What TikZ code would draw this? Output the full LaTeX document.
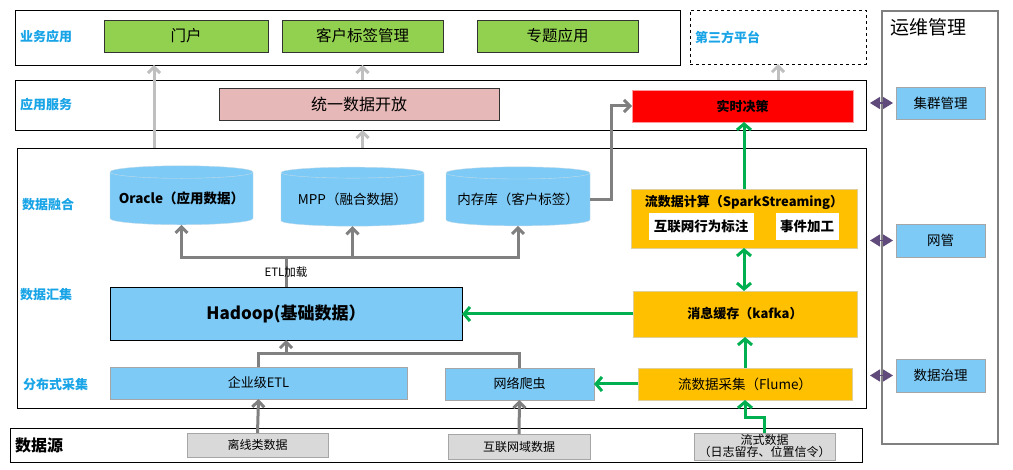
\documentclass[tikz,border=0pt]{standalone}
\usepackage{fontspec}
\setmainfont{Noto Sans CJK SC}
\usetikzlibrary{positioning,arrows.meta,shapes.geometric,calc}

\definecolor{lvlblue}{RGB}{24,164,230}
\definecolor{appgreen}{RGB}{146,208,80}
\definecolor{openpink}{RGB}{230,184,183}
\definecolor{dbblue}{RGB}{125,202,246}
\definecolor{flowgold}{RGB}{255,192,0}
\definecolor{srcgray}{RGB}{217,217,217}
\definecolor{arrowlt}{RGB}{191,191,191}
\definecolor{arrowdk}{RGB}{128,128,128}
\definecolor{arrowgr}{RGB}{0,176,80}
\definecolor{opspurple}{RGB}{96,73,123}

\newcommand{\fsz}[1]{\fontsize{#1}{#1}\selectfont}

\begin{document}
\begin{tikzpicture}[x=1pt,y=-1pt,
  layer/.style={rectangle,draw=black,line width=0.8pt,inner sep=0pt,outer sep=0pt},
  blk/.style={rectangle,draw=#1,line width=0.8pt,inner sep=0pt,outer sep=0pt,align=center},
  lvl/.style={anchor=west,inner sep=0pt,text=lvlblue,font=\bfseries\fsz{13}},
  db/.style={cylinder,shape border rotate=90,aspect=0.1,draw=dbblue!80!black!40,fill=dbblue,
    minimum width=143pt,minimum height=59pt,inner sep=0pt,outer sep=0pt,font=\fsz{13.5}},
  ltarrow/.style={draw=arrowlt,line width=3pt,-{Straight Barb[length=6pt,width=12pt]}},
  dkline/.style={draw=arrowdk,line width=3pt},
  dkarrow/.style={dkline,-{Straight Barb[length=6pt,width=12pt]}},
  grarrow/.style={draw=arrowgr,line width=3pt,-{Straight Barb[length=6pt,width=14pt]}},
  grboth/.style={draw=arrowgr,line width=3pt,{Straight Barb[length=6pt,width=14pt]}-{Straight Barb[length=6pt,width=14pt]}},
  opslink/.style={draw=opspurple,line width=1.5pt,{Triangle[length=10pt,width=12pt]}-{Triangle[length=10pt,width=12pt]},shorten <=4pt,shorten >=3pt},
]
\useasboundingbox (0,0) rectangle (1013,470);

% layers
\node[layer,minimum width=665pt,minimum height=55pt] (biz) at (347.5,37.5) {};
\node[layer,dashed,minimum width=176pt,minimum height=54pt] (third) at (778,37) {};
\node[layer,minimum width=851pt,minimum height=50pt] (svc) at (440.5,105) {};
\node[layer,minimum width=849pt,minimum height=260pt] (main) at (441.5,278) {};
\node[layer,minimum width=852pt,minimum height=34pt] (src) at (436,445) {};
\node[layer,draw=arrowdk,line width=2pt,minimum width=116pt,minimum height=433pt] (ops) at (940,227.5) {};

% level labels
\node[lvl] (lbiz) at (20,37) {业务应用};
\node[lvl] (lthird) at (695,37) {第三方平台};
\node[lvl] (lsvc) at (20,105) {应用服务};
\node[lvl] (lfuse) at (22,205) {数据融合};
\node[lvl] (lgather) at (20,295) {数据汇集};
\node[lvl] (lcollect) at (23,385) {分布式采集};
\node[lvl,text=black,font=\bfseries\fsz{16}] (lsrc) at (15,445) {数据源};
\node[anchor=west,inner sep=0pt,font=\fsz{19}] (lops) at (890,27) {运维管理};

% business apps
\node[blk=black!80,fill=appgreen,minimum width=164pt,minimum height=32pt,font=\fsz{15.5}] (portal) at (186,36) {门户};
\node[blk=black!80,fill=appgreen,minimum width=161pt,minimum height=32pt,font=\fsz{15.5}] (tag) at (362.5,36) {客户标签管理};
\node[blk=black!80,fill=appgreen,minimum width=161pt,minimum height=32pt,font=\fsz{15.5}] (topic) at (557.5,36) {专题应用};

% services
\node[blk=black!80,fill=openpink,minimum width=280pt,minimum height=32pt,font=\fsz{16}] (open) at (359,104) {统一数据开放};
\node[blk=red!40,fill=red,minimum width=221pt,minimum height=32pt,font=\bfseries\fsz{13}] (rt) at (742.5,106) {实时决策};

% ops
\node[blk=black!35,fill=dbblue,minimum width=89pt,minimum height=32pt,font=\fsz{13.5}] (cluster) at (940.5,103) {集群管理};
\node[blk=black!35,fill=dbblue,minimum width=89pt,minimum height=33pt,font=\fsz{13.5}] (netmgr) at (940.5,240.5) {网管};
\node[blk=black!35,fill=dbblue,minimum width=89pt,minimum height=33pt,font=\fsz{13.5}] (gov) at (940.5,375.5) {数据治理};

% data fusion
\node[db,font=\bfseries\fsz{13.5}] (oracle) at (181.5,198.5) {Oracle（应用数据）};
\node[db] (mpp) at (352.5,199.5) {MPP（融合数据）};
\node[db,minimum width=144pt] (mem) at (518,199.5) {内存库（客户标签）};

% stream computing
\node[blk=flowgold!70!black!40,fill=flowgold,minimum width=226pt,minimum height=59pt] (spark) at (744,218.5) {};
\node[inner sep=0pt,font=\bfseries\fsz{13}] (sparktitle) at (744,202) {流数据计算（SparkStreaming）};
\node[blk=white,fill=white,minimum width=104pt,minimum height=26pt,font=\bfseries\fsz{13.5}] (behav) at (701,226) {互联网行为标注};
\node[blk=white,fill=white,minimum width=62pt,minimum height=26pt,font=\bfseries\fsz{13.5}] (event) at (807,226) {事件加工};

% gathering
\node[blk=black,fill=dbblue,minimum width=352pt,minimum height=53pt,font=\bfseries\fsz{17}] (hadoop) at (286,313.5) {Hadoop(基础数据）};
\node[blk=flowgold!70!black!40,fill=flowgold,minimum width=224pt,minimum height=46pt,font=\bfseries\fsz{13}] (kafka) at (745,314) {消息缓存（kafka）};

% collection
\node[blk=black!35,fill=dbblue,minimum width=297pt,minimum height=32pt,font=\fsz{13}] (etl) at (258.5,383) {企业级ETL};
\node[blk=black!35,fill=dbblue,minimum width=149pt,minimum height=32pt,font=\fsz{13}] (crawler) at (519.5,384) {网络爬虫};
\node[blk=flowgold!70!black!40,fill=flowgold,minimum width=214pt,minimum height=32pt,font=\fsz{13.5}] (flume) at (745,384) {流数据采集（Flume）};

% sources
\node[blk=black!35,fill=srcgray,minimum width=141pt,minimum height=24pt,font=\fsz{12}] (offline) at (257.5,445) {离线类数据};
\node[blk=black!35,fill=srcgray,minimum width=142pt,minimum height=25pt,font=\fsz{12}] (webdata) at (519,446.5) {互联网域数据};
\node[blk=black!35,fill=srcgray,minimum width=141pt,minimum height=27pt,font=\fsz{12}] (stream) at (764.5,446.5) {流式数据\\（日志留存、位置信令）};

% light gray arrows up to the apps
\coordinate (upx) at (154,148);
\draw[ltarrow] (main.north -| upx) -- (biz.south -| upx);
\draw[ltarrow] (svc.north -| tag.south) -- (biz.south -| tag.south);
\draw[ltarrow] (main.north -| tag.south) -- (svc.south -| tag.south);
\draw[ltarrow] (svc.north -| third.south) -- (third.south);

% ETL load
\draw[dkline] (hadoop.north) -- ++(0,-29) coordinate (etlhub);
\draw[dkline,{Straight Barb[length=6pt,width=12pt]}-{Straight Barb[length=6pt,width=12pt]}] (oracle.south) |- (etlhub) -| (mem.south);
\draw[dkarrow] (mpp.south |- etlhub) -- (mpp.south);
\path (hadoop.north) -- (etlhub) node[midway,inner sep=0pt,font=\fsz{11.5}] (etltext) {ETL加载};
\draw[dkarrow] (mem.east) -- ++(21,0) |- (rt.west);

% collection into hadoop
\coordinate (colhub) at ($(hadoop.south)+(0,14)$);
\draw[dkline] (etl.north) |- (colhub) -| (crawler.north);
\draw[dkarrow] (colhub) -- (hadoop.south);
\draw[dkarrow] (offline.north) -- (etl.south);
\draw[dkarrow] (webdata.north) -- (crawler.south);

% stream path
\draw[grarrow] (spark.north) -- (spark.north |- rt.south);
\draw[grboth] (spark.south) -- (spark.south |- kafka.north);
\draw[grarrow] (kafka.west) -- (kafka.west -| hadoop.east);
\draw[grarrow] (flume.north) -- (kafka.south);
\draw[grarrow] (flume.west) -- (crawler.east);
\draw[grarrow] (stream.north) -- ++(0,-15) -| (flume.south);

% ops links
\draw[opslink] (svc.east |- cluster) -- (cluster.west);
\draw[opslink] (main.east |- netmgr) -- (netmgr.west);
\draw[opslink] (main.east |- gov) -- (gov.west);

\end{tikzpicture}
\end{document}
